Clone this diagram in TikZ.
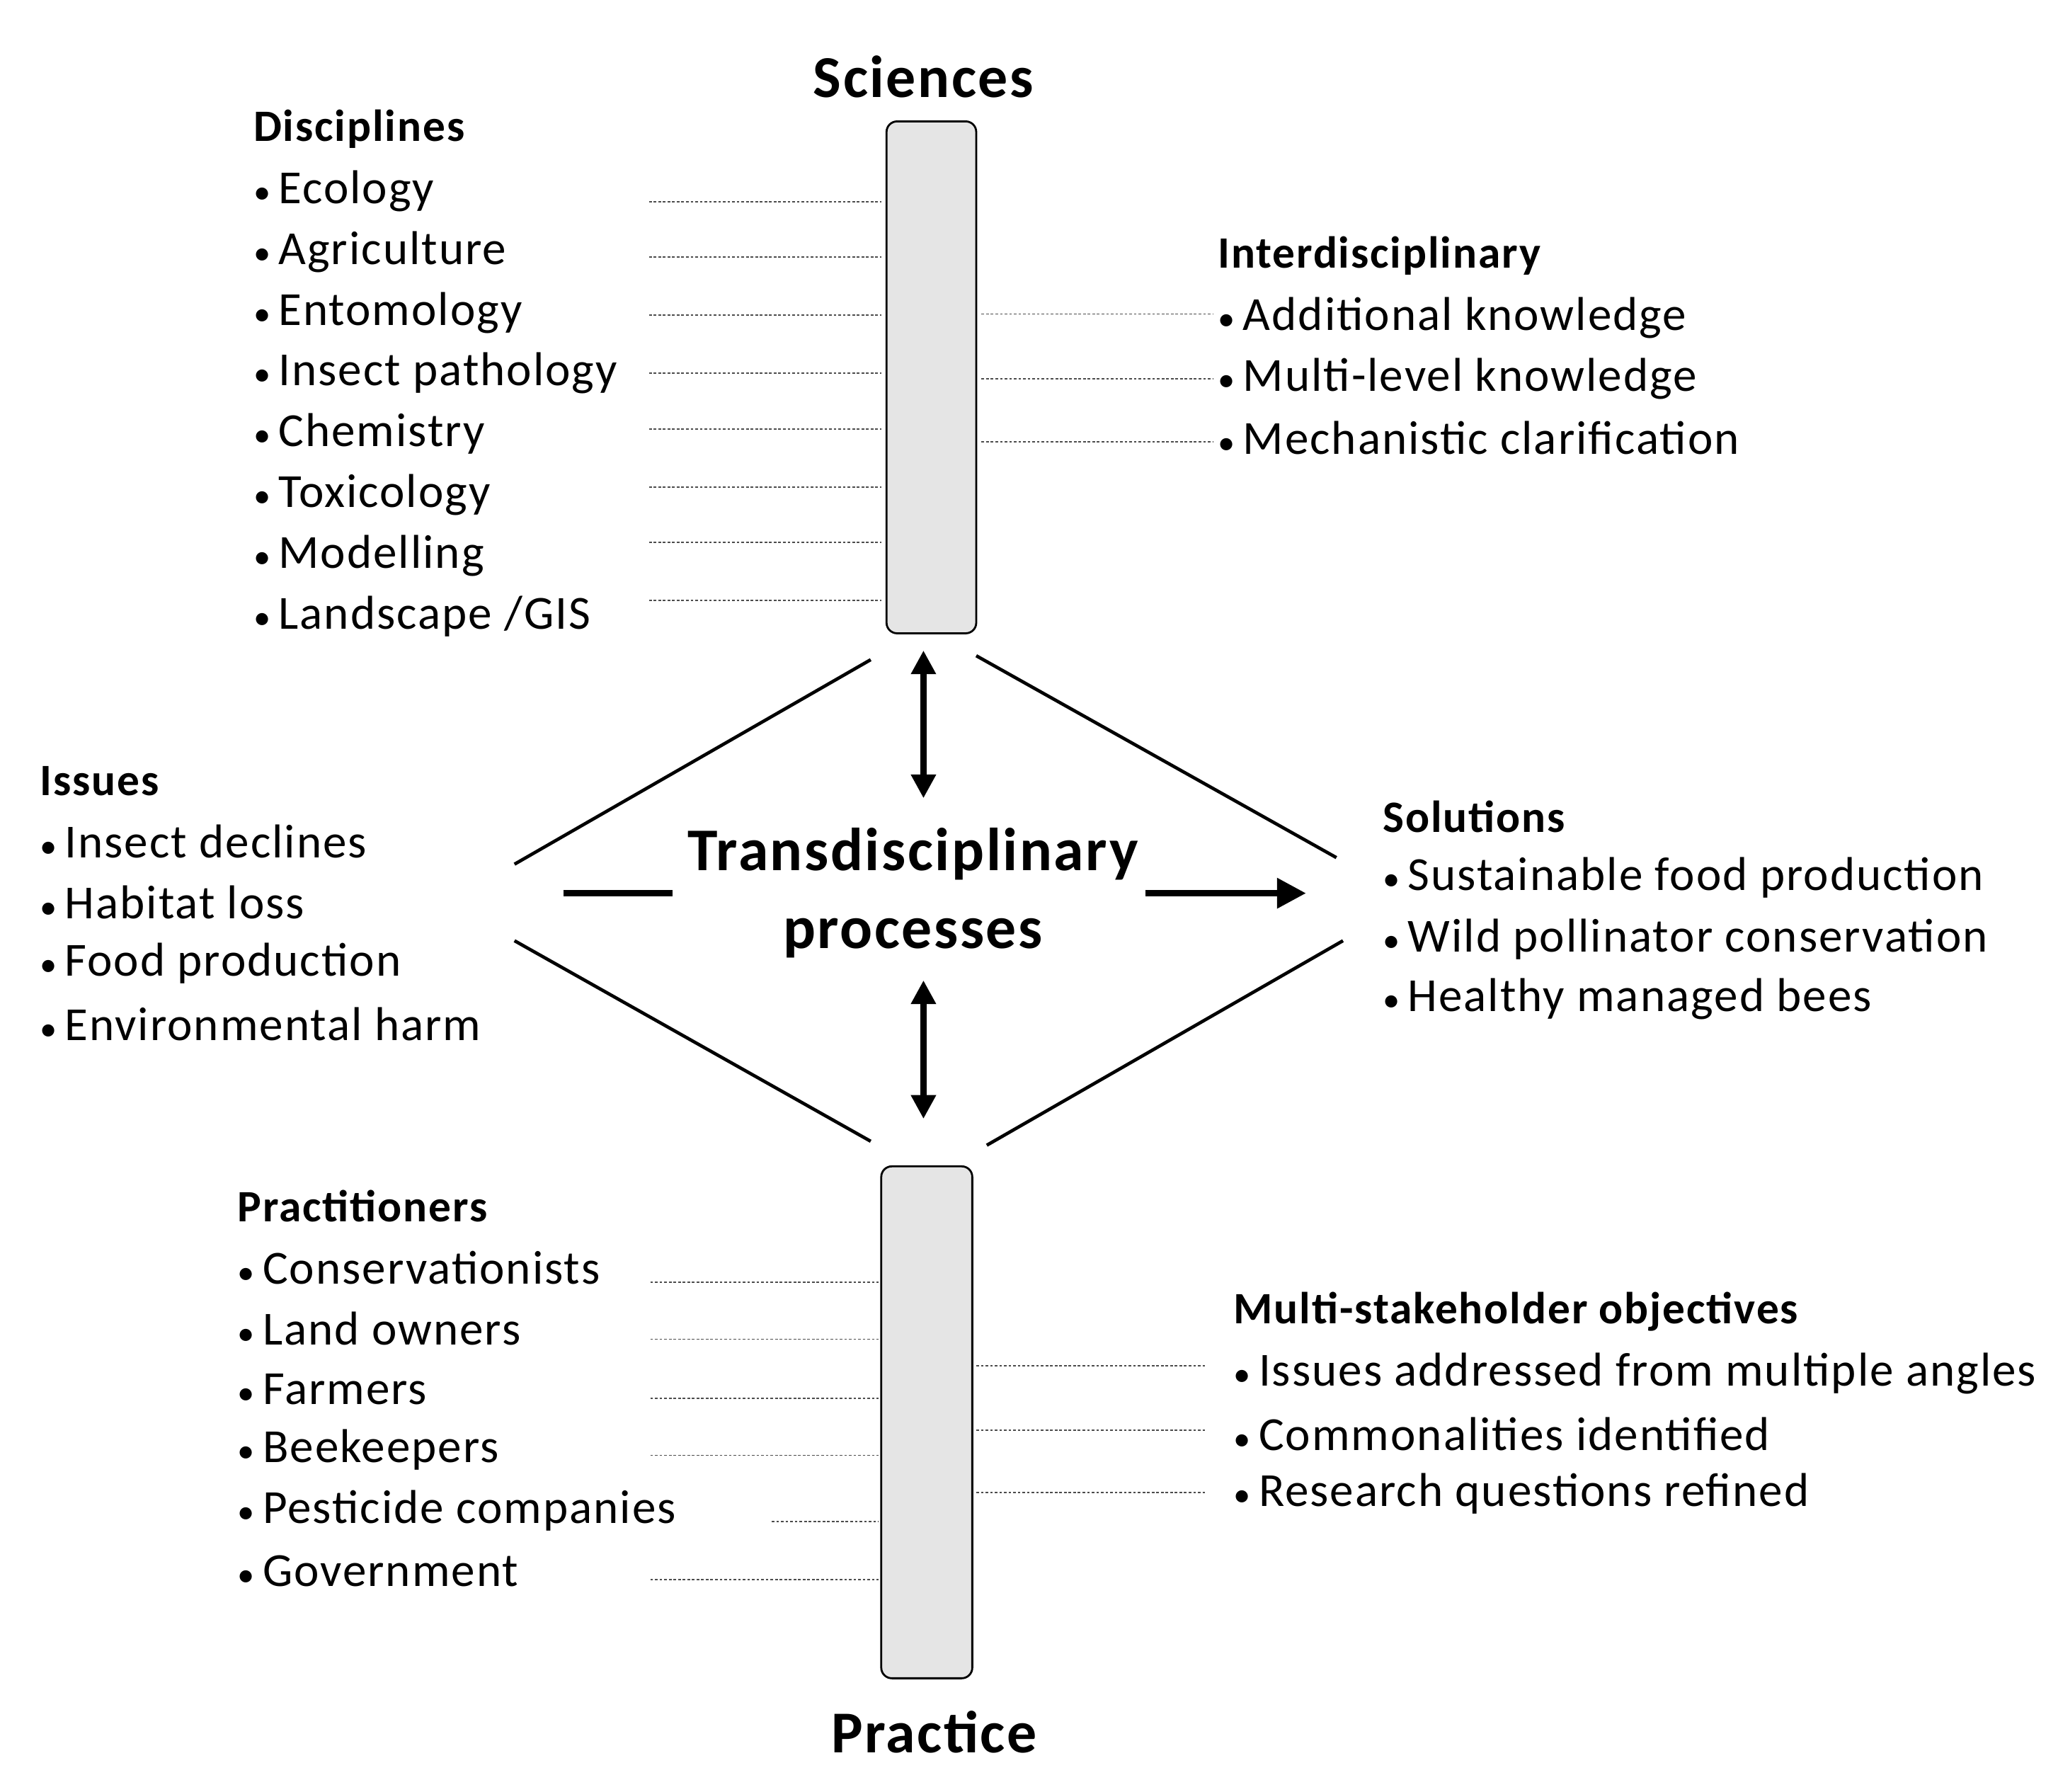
\documentclass[tikz,border=0pt]{standalone}
\usepackage{fontspec}
\setmainfont{Carlito}[LetterSpace=3]
\usetikzlibrary{arrows.meta}
\begin{document}
\begin{tikzpicture}[x=1pt,y=-1pt,
  item/.style={anchor=west,inner sep=0pt,font=\fontsize{36}{38}\selectfont},
  head/.style={anchor=west,inner sep=0pt,font=\fontsize{34}{38}\selectfont\bfseries},
  dotl/.style={dash pattern=on 2pt off 1.5pt,line width=1pt,gray!60!black},
  bar/.style={draw,line width=1.5pt,fill=gray!20,rounded corners=8pt},
  dl/.style={line width=2.5pt},
  barr/.style={line width=4.5pt,{Triangle[length=18pt,width=18pt]}-{Triangle[length=18pt,width=18pt]}}]
\useasboundingbox (0,0) rectangle (1560,1358);
\node[font=\fontsize{45}{50}\selectfont\bfseries] (sci) at (700,58) {Sciences};
\node[font=\fontsize{45}{50}\selectfont\bfseries] (pra) at (708,1313) {Practice};
\draw[bar] (672,92) rectangle (740,480);
\draw[bar] (668,884) rectangle (737,1272);
\newcommand\bl{{\fontsize{26}{30}\selectfont•}\hspace{6pt}}
% Disciplines
\node[head] at (192,98) {Disciplines};
\foreach \t [count=\i] in {Ecology,Agriculture,Entomology,Insect pathology,Chemistry,Toxicology,Modelling,Landscape /GIS}
  \node[item] at (192,99+46*\i) {\bl\t};
\foreach \y in {153,195,239,283,325,369,411,455} \draw[dotl] (492,\y) -- (668,\y);
% Interdisciplinary
\node[head] at (923,194) {Interdisciplinary};
\node[item] at (923,241) {\bl Additional knowledge};
\node[item] at (923,287) {\bl Multi-level knowledge};
\node[item] at (923,332) {\bl Mechanistic clarification};
\foreach \y in {238,287,335} \draw[dotl] (744,\y) -- (920,\y);
% Diamond
\draw[dl] (660,500) -- (390,655);
\draw[dl] (740,497) -- (1013,650);
\draw[dl] (390,713) -- (660,865);
\draw[dl] (748,868) -- (1018,713);
\draw[barr] (700,493) -- (700,605);
\draw[barr] (700,743) -- (700,848);
\node[align=center,font=\fontsize{46}{59}\selectfont\bfseries] (td) at (692,677) {Transdisciplinary\\processes};
\draw[line width=5pt] (427,677) -- (510,677);
\draw[line width=5pt,-{Triangle[length=22pt,width=22pt]}] (868,677) -- (990,677);
% Issues
\node[head] at (30,592) {Issues};
\foreach \t [count=\i] in {Insect declines,Habitat loss,Food production,Environmental harm}
  \node[item] at (30,592+46*\i) {\bl\t};
% Solutions
\node[head] at (1048,619) {Solutions};
\node[item] at (1048,665) {\bl Sustainable food production};
\node[item] at (1048,712) {\bl Wild pollinator conservation};
\node[item] at (1048,757) {\bl Healthy managed bees};
% Practitioners
\node[head] at (180,914) {Practitioners};
\foreach \t [count=\i] in {Conservationists,Land owners,Farmers,Beekeepers,Pesticide companies,Government}
  \node[item] at (180,915+46*\i) {\bl\t};
\foreach \y in {972,1015,1060,1103,1197} \draw[dotl] (493,\y) -- (666,\y);
\draw[dotl] (585,1153) -- (666,1153);
% Multi-stakeholder
\node[head] at (935,994) {Multi-stakeholder objectives};
\node[item] at (935,1041) {\bl Issues addressed from multiple angles};
\node[item] at (935,1087) {\bl Commonalities identified};
\node[item] at (935,1132) {\bl Research questions refined};
\foreach \y in {1035,1084,1131} \draw[dotl] (740,\y) -- (915,\y);
\end{tikzpicture}
\end{document}
